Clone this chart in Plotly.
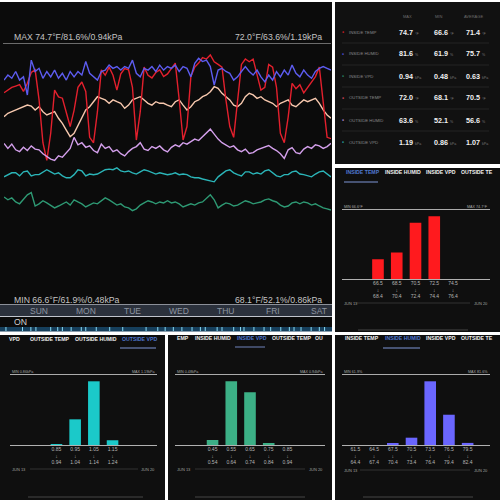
import plotly.graph_objects as go

# ---------------- data ----------------
hours = list(range(0, 169, 2))

inside_temp = [71.9, 72.1, 72.3, 72.4, 72.5, 72.0, 72.6, 73.4, 73.6, 71.4,
               68.2, 66.9, 68.9, 72.1, 71.6, 71.5, 70.4, 69.4, 70.6, 72.3,
               72.7, 72.0, 68.6, 68.2, 70.5, 73.6, 73.2, 73.8, 73.2, 72.1,
               73.3, 73.7, 73.6, 72.3, 68.4, 70.5, 73.8, 73.2, 73.0, 73.4,
               73.6, 73.1, 73.3, 73.7, 74.1, 71.4, 68.4, 69.4, 73.1, 73.8,
               74.1, 74.5, 74.4, 74.7, 74.2, 74.0, 73.8, 71.4, 69.4, 68.6,
               71.4, 74.0, 74.4, 74.2, 74.4, 73.3, 72.1, 72.3, 74.0, 73.8,
               72.3, 68.9, 68.2, 70.1, 72.6, 72.2, 72.5, 71.9, 72.3, 72.7,
               73.1, 73.8, 71.4, 68.6, 68.5]

inside_humid = [75.4, 76.8, 75.9, 77.8, 75.4, 76.3, 71.2, 81.0, 77.8, 78.7,
                75.9, 77.8, 76.3, 78.2, 75.9, 77.3, 75.4, 77.8, 76.3, 77.8,
                76.8, 80.6, 77.3, 76.3, 75.4, 77.8, 78.2, 79.6, 78.7, 79.2,
                78.2, 79.2, 78.7, 81.0, 77.3, 76.3, 78.7, 78.2, 79.2, 77.8,
                79.6, 78.2, 79.2, 78.7, 79.6, 77.8, 79.2, 78.7, 76.3, 80.1,
                81.5, 80.6, 81.0, 79.2, 74.0, 78.2, 78.7, 77.8, 77.3, 75.4,
                76.3, 77.8, 79.2, 77.8, 76.8, 78.2, 76.3, 74.9, 76.8, 75.4,
                77.8, 76.3, 78.2, 76.8, 79.6, 77.3, 76.3, 78.2, 76.8, 75.9,
                77.8, 78.7, 79.2, 78.7, 78.2]

outside_temp = [70.13, 70.38, 70.50, 70.63, 70.75, 70.87, 70.99, 70.92, 70.63, 70.87,
                70.50, 70.26, 70.38, 70.50, 70.01, 69.64, 69.14, 68.65, 68.90, 69.52,
                70.13, 70.63, 70.87, 71.24, 71.61, 71.49, 71.37, 71.12, 71.37, 71.24,
                71.12, 70.75, 70.99, 71.37, 71.49, 71.61, 71.37, 71.12, 70.99, 71.24,
                71.12, 71.12, 70.99, 70.87, 71.24, 71.37, 70.99, 70.63, 70.87, 71.24,
                71.37, 71.61, 71.74, 71.98, 72.35, 72.23, 71.86, 71.61, 71.37, 70.99,
                70.87, 71.12, 71.61, 71.86, 71.74, 71.49, 71.61, 71.37, 71.24, 71.12,
                70.87, 71.12, 71.24, 71.37, 70.99, 70.87, 71.12, 71.37, 71.24, 71.37,
                71.49, 71.12, 70.63, 70.26, 70.01]

outside_humid = [57.6, 56.2, 57.4, 55.8, 55.3, 56.5, 55.6, 56.9, 56.0, 55.8,
                 54.7, 53.9, 53.2, 52.8, 54.1, 53.7, 55.0, 56.2, 59.3, 57.2,
                 57.8, 56.5, 56.9, 55.6, 55.0, 57.4, 56.2, 56.7, 55.3, 55.8,
                 54.7, 54.1, 55.3, 56.2, 56.7, 57.8, 56.0, 55.6, 56.7, 56.2,
                 56.9, 55.8, 55.2, 56.5, 57.2, 56.7, 57.8, 57.4, 58.1, 58.8,
                 58.4, 59.5, 60.4, 61.6, 60.2, 58.8, 57.8, 57.2, 56.5, 56.9,
                 55.8, 55.3, 56.0, 54.8, 55.0, 55.8, 56.2, 56.7, 57.0, 56.2,
                 55.6, 54.7, 53.4, 55.8, 56.4, 55.0, 54.7, 56.0, 56.7, 56.2,
                 57.2, 56.9, 56.2, 56.7, 57.6]

inside_vpd = [0.72, 0.675, 0.705, 0.64, 0.61, 0.69, 0.755, 0.79, 0.575, 0.61,
              0.66, 0.625, 0.59, 0.545, 0.575, 0.61, 0.64, 0.59, 0.675, 0.64,
              0.61, 0.56, 0.59, 0.625, 0.61, 0.66, 0.705, 0.675, 0.625, 0.59,
              0.61, 0.56, 0.545, 0.50, 0.53, 0.59, 0.625, 0.66, 0.64, 0.61,
              0.64, 0.625, 0.66, 0.625, 0.64, 0.61, 0.56, 0.59, 0.61, 0.59,
              0.625, 0.64, 0.69, 0.755, 0.675, 0.545, 0.59, 0.625, 0.61, 0.575,
              0.59, 0.625, 0.66, 0.64, 0.61, 0.625, 0.64, 0.675, 0.69, 0.66,
              0.64, 0.59, 0.56, 0.575, 0.625, 0.64, 0.61, 0.64, 0.625, 0.59,
              0.61, 0.575, 0.545, 0.53, 0.51]

outside_vpd = [1.045, 1.08, 1.11, 1.11, 1.06, 1.125, 1.14, 1.06, 1.08, 1.08,
               1.125, 1.16, 1.125, 1.09, 1.11, 1.06, 1.03, 1.03, 1.08, 1.16,
               1.14, 1.06, 1.09, 1.08, 1.09, 1.125, 1.16, 1.17, 1.16, 1.19,
               1.14, 1.125, 1.14, 1.11, 1.09, 1.125, 1.16, 1.14, 1.11, 1.09,
               1.11, 1.09, 1.08, 1.09, 1.11, 1.08, 1.09, 1.08, 1.045, 1.03,
               1.03, 1.01, 0.995, 0.98, 0.965, 1.045, 1.09, 1.14, 1.16, 1.11,
               1.08, 1.06, 1.125, 1.125, 1.09, 1.11, 1.09, 1.14, 1.16, 1.11,
               1.06, 1.045, 1.08, 1.08, 1.125, 1.14, 1.09, 1.08, 1.06, 1.045,
               1.09, 1.125, 1.14, 1.09, 1.045]

days = ["SUN", "MON", "TUE", "WED", "THU", "FRI", "SAT"]
day_label_hours = [18, 42, 66, 90, 114, 138, 162]

on_events = [1, 9.5, 13.8, 16.4, 24, 27.6, 30, 34.5, 39.7, 42, 47.4, 54.3, 61, 73,
             79, 82.8, 87, 91.4, 96.6, 100.9, 103.4, 109.5, 112, 118, 121.5, 123.3,
             128.4, 133.6, 137, 142.2, 146.6, 149, 152.6, 157.8, 162, 164.7]

metrics = ["INSIDE TEMP", "INSIDE HUMID", "INSIDE VPD", "OUTSIDE TEMP", "OUTSIDE HUMID", "OUTSIDE VPD"]
units = ["°F", "%", "kPa", "°F", "%", "kPa"]
max_vals = ["74.7", "81.6", "0.94", "72.0", "63.6", "1.19"]
min_vals = ["66.6", "61.9", "0.48", "68.1", "52.1", "0.86"]
avg_vals = ["71.4", "75.7", "0.63", "70.5", "56.6", "1.07"]

temp_bin_lo = ["66.5", "68.5", "70.5", "72.5", "74.5"]
temp_bin_hi = ["68.4", "70.4", "72.4", "74.4", "76.4"]
temp_pct = [12, 16, 34, 38, 0]

ovpd_bin_lo = ["0.85", "0.95", "1.05", "1.15"]
ovpd_bin_hi = ["0.94", "1.04", "1.14", "1.24"]
ovpd_pct = [1, 27, 67, 5]

ivpd_bin_lo = ["0.45", "0.55", "0.65", "0.75", "0.85"]
ivpd_bin_hi = ["0.54", "0.64", "0.74", "0.84", "0.94"]
ivpd_pct = [4, 52, 43, 1, 0]

hum_bin_lo = ["61.5", "64.5", "67.5", "70.5", "73.5", "76.5", "79.5"]
hum_bin_hi = ["64.4", "67.4", "70.4", "73.4", "76.4", "79.4", "82.4"]
hum_pct = [0, 0, 1, 7, 61, 29, 2]

# ---------------- helpers ----------------
FONT = "Liberation Sans, Arial, sans-serif"


def X(p):
    return p / 500.0


def Y(p):
    return 1 - p / 500.0


shapes = []
annotations = []


def rect(x0, y0, x1, y1, color):
    shapes.append(dict(type="rect", xref="paper", yref="paper", x0=X(x0), x1=X(x1),
                       y0=Y(y1), y1=Y(y0), fillcolor=color, line=dict(width=0), layer="below"))


def hline(x0, x1, y, color, width=1):
    shapes.append(dict(type="line", xref="paper", yref="paper", x0=X(x0), x1=X(x1),
                       y0=Y(y), y1=Y(y), line=dict(color=color, width=width), layer="below"))


def text(x, y, s, size, color, anchor="left", bold=False):
    annotations.append(dict(x=X(x), y=Y(y), xref="paper", yref="paper",
                            text=("<b>%s</b>" % s) if bold else s, showarrow=False,
                            xanchor=anchor, yanchor="middle",
                            font=dict(size=size, color=color, family=FONT)))


fig = go.Figure()

# ---------------- panels ----------------
rect(0, 2, 332, 331, "#0b0b0b")     # main
rect(335, 2, 500, 164, "#111111")   # table
rect(335, 168, 500, 332, "#0f0f0f")  # inside temp hist
rect(0, 335, 165, 500, "#0f0f0f")   # outside vpd
rect(168, 335, 332, 500, "#0f0f0f")  # inside vpd
rect(335, 335, 500, 500, "#0f0f0f")  # inside humid

# ---------------- main line chart ----------------
series = [
    (outside_vpd, "y3", "#2bb5b8"),
    (inside_vpd, "y3", "#2e9a74"),
    (outside_humid, "y2", "#d4a0ec"),
    (outside_temp, "y", "#f7c8ae"),
    (inside_humid, "y2", "#5d5cf0"),
    (inside_temp, "y", "#e3202d"),
]
for vals, ax, col in series:
    fig.add_trace(go.Scatter(x=hours, y=vals, xaxis="x", yaxis=ax, mode="lines",
                             line=dict(color=col, width=1.4), hoverinfo="skip",
                             showlegend=False))

hline(3, 331, 43.5, "#6b6b6b", 1)
text(12, 37.5, "MAX 74.7°F/81.6%/0.94kPa", 8.7, "#c4c4c4")
text(324, 37.5, "72.0°F/63.6%/1.19kPa", 8.7, "#c4c4c4", anchor="right")
text(12, 300, "MIN 66.6°F/61.9%/0.48kPa", 8.7, "#c4c4c4")
text(324, 300, "68.1°F/52.1%/0.86kPa", 8.7, "#c4c4c4", anchor="right")

rect(0, 305, 332, 316, "#2b313c")
hline(0, 332, 304.5, "#8c9099", 1)
hline(0, 332, 316.5, "#c0c4cc", 1)
for d, h in zip(days, day_label_hours):
    annotations.append(dict(x=h, y=Y(310.7), xref="x", yref="paper", text=d, showarrow=False,
                            xanchor="center", yanchor="middle",
                            font=dict(size=8.5, color="#8e95a1", family=FONT)))
text(12, 322, "ON", 8.7, "#d0d0d0")
rect(0, 327, 332, 331.5, "#163f5c")
fig.add_trace(go.Scatter(x=on_events, y=[0.5] * len(on_events), xaxis="x", yaxis="y4",
                         mode="markers", hoverinfo="skip", showlegend=False,
                         marker=dict(symbol="line-ns", size=5,
                                     line=dict(width=1, color="#8adcf5"))))

# ---------------- table ----------------
text(407, 16, "MAX", 4, "#6d6d6d", anchor="center")
text(438, 16, "MIN", 4, "#6d6d6d", anchor="center")
text(473, 16, "AVERAGE", 4, "#6d6d6d", anchor="center")
dot_colors = ["#e3202d", "#5d5cf0", "#2e9a74", "#e8506a", "#c89be6", "#2bb5b8"]
for r, m in enumerate(metrics):
    yy = 32 + 22 * r
    text(343, yy, "●", 3.5, dot_colors[r], anchor="center")
    text(347, yy, m, 4.3, "#8a8a8a")
    for xv, v in zip([397, 432, 464], [max_vals[r], min_vals[r], avg_vals[r]]):
        annotations.append(dict(x=X(xv), y=Y(yy), xref="paper", yref="paper", showarrow=False,
                                xanchor="left", yanchor="middle",
                                text="<b>%s</b> <span style='font-size:3.6px;color:#7a7a7a'>%s</span>" % (v, units[r]),
                                font=dict(size=7.2, color="#f2f2f2", family=FONT)))
    if r < 5:
        hline(342, 489, yy + 11, "#2a2a2a", 0.8)

# ---------------- histograms ----------------
hists = [
    dict(ax="5", lo=temp_bin_lo, hi=temp_bin_hi, pct=temp_pct, color="#ff1a1e",
         dom=(368.6, 462.4), base=279, top=210, lx=(342, 490), tab_y=172, tabs=[
             ("INSIDE TEMP", 344, True), ("INSIDE HUMID", 383, False),
             ("INSIDE VPD", 424, False), ("OUTSIDE TE", 459, False)],
         ul=(344, 378, 182), mn="MIN 66.6°F", mx="MAX 74.7°F", mm_y=206.5,
         jun_y=303, jl=(357, 470), pill=(358, 468, 330)),
    dict(ax="6", lo=ovpd_bin_lo, hi=ovpd_bin_hi, pct=ovpd_pct, color="#1bc9c9",
         dom=(47.1, 121.9), base=445, top=375, lx=(10, 157), tab_y=338.5, tabs=[
             ("VPD", 7, False), ("OUTSIDE TEMP", 28, False),
             ("OUTSIDE HUMID", 73, False), ("OUTSIDE VPD", 120, True)],
         ul=(120, 156, 348), mn="MIN 0.86kPa", mx="MAX 1.19kPa", mm_y=372,
         jun_y=469, jl=(30, 138), pill=(28, 143, 497)),
    dict(ax="7", lo=ivpd_bin_lo, hi=ivpd_bin_hi, pct=ivpd_pct, color="#3cb086",
         dom=(203.2, 296.8), base=445, top=375, lx=(175, 325), tab_y=337.5, tabs=[
             ("EMP", 175, False), ("INSIDE HUMID", 193, False),
             ("INSIDE VPD", 235, True), ("OUTSIDE TEMP", 270, False), ("OU", 313, False)],
         ul=(235, 265, 347), mn="MIN 0.48kPa", mx="MAX 0.94kPa", mm_y=372,
         jun_y=469, jl=(195, 305), pill=(195, 305, 497)),
    dict(ax="8", lo=hum_bin_lo, hi=hum_bin_hi, pct=hum_pct, color="#6a66ff",
         dom=(346, 477), base=445, top=375, lx=(342, 490), tab_y=337.5, tabs=[
             ("INSIDE TEMP", 343, False), ("INSIDE HUMID", 383, True),
             ("INSIDE VPD", 424, False), ("OUTSIDE TE", 459, False)],
         ul=(383, 420, 348), mn="MIN 61.9%", mx="MAX 81.6%", mm_y=372,
         jun_y=470, jl=(360, 470), pill=(363, 473, 497)),
]

layout_axes = {}
for h in hists:
    n = h["ax"]
    fig.add_trace(go.Bar(x=h["lo"], y=h["pct"], xaxis="x" + n, yaxis="y" + n,
                         marker=dict(color=h["color"], line=dict(width=0)),
                         hoverinfo="skip", showlegend=False))
    layout_axes["xaxis" + n] = dict(
        domain=[X(h["dom"][0]), X(h["dom"][1])], anchor="y" + n, type="category",
        tickvals=h["lo"], ticktext=["%s<br>↓<br>%s" % (a, b) for a, b in zip(h["lo"], h["hi"])],
        tickfont=dict(size=5, color="#b5b5b5", family=FONT), ticks="", showgrid=False,
        zeroline=False, showline=False, fixedrange=True)
    layout_axes["yaxis" + n] = dict(
        domain=[Y(h["base"]), Y(h["top"])], anchor="x" + n,
        range=[0, max(h["pct"]) / 0.91], visible=False, fixedrange=True)
    # decorations
    for label, xl, active in h["tabs"]:
        text(xl, h["tab_y"], label, 5.2, "#4f78cf" if active else "#f0f0f0", bold=True)
    hline(h["ul"][0], h["ul"][1], h["ul"][2], "#5a6a95", 1.3)
    text(h["lx"][0], h["mm_y"], h["mn"], 3.7, "#a8a8a8")
    text(h["lx"][1], h["mm_y"], h["mx"], 3.7, "#a8a8a8", anchor="right")
    hline(h["lx"][0], h["lx"][1], h["top"] - 0.5, "#bdbdbd", 0.9)
    hline(h["lx"][0], h["lx"][1], h["base"] + 0.5, "#c4c4c4", 0.9)
    text(h["lx"][0], h["jun_y"], "JUN 13", 4, "#a0a0a0")
    text(h["lx"][1], h["jun_y"], "JUN 20", 4, "#a0a0a0", anchor="right")
    hline(h["jl"][0], h["jl"][1], h["jun_y"], "#3a3a3a", 0.8)
    hline(h["pill"][0], h["pill"][1], h["pill"][2], "#2a2a2a", 2)

fig.update_layout(
    width=500, height=500, margin=dict(l=0, r=0, t=0, b=0),
    paper_bgcolor="white", plot_bgcolor="rgba(0,0,0,0)",
    showlegend=False, bargap=0.38,
    xaxis=dict(domain=[X(4), X(331)], range=[0, 168], visible=False, anchor="y", fixedrange=True),
    yaxis=dict(domain=[Y(300), Y(45)], range=[56.55, 75.44], visible=False, fixedrange=True),
    yaxis2=dict(overlaying="y", range=[13.6, 85.25], visible=False, fixedrange=True),
    yaxis3=dict(overlaying="y", range=[-0.94, 3.17], visible=False, fixedrange=True),
    yaxis4=dict(domain=[Y(331), Y(327)], anchor="x", range=[0, 1], visible=False, fixedrange=True),
    shapes=shapes, annotations=annotations,
    **layout_axes,
)

fig.write_html("out.html")
